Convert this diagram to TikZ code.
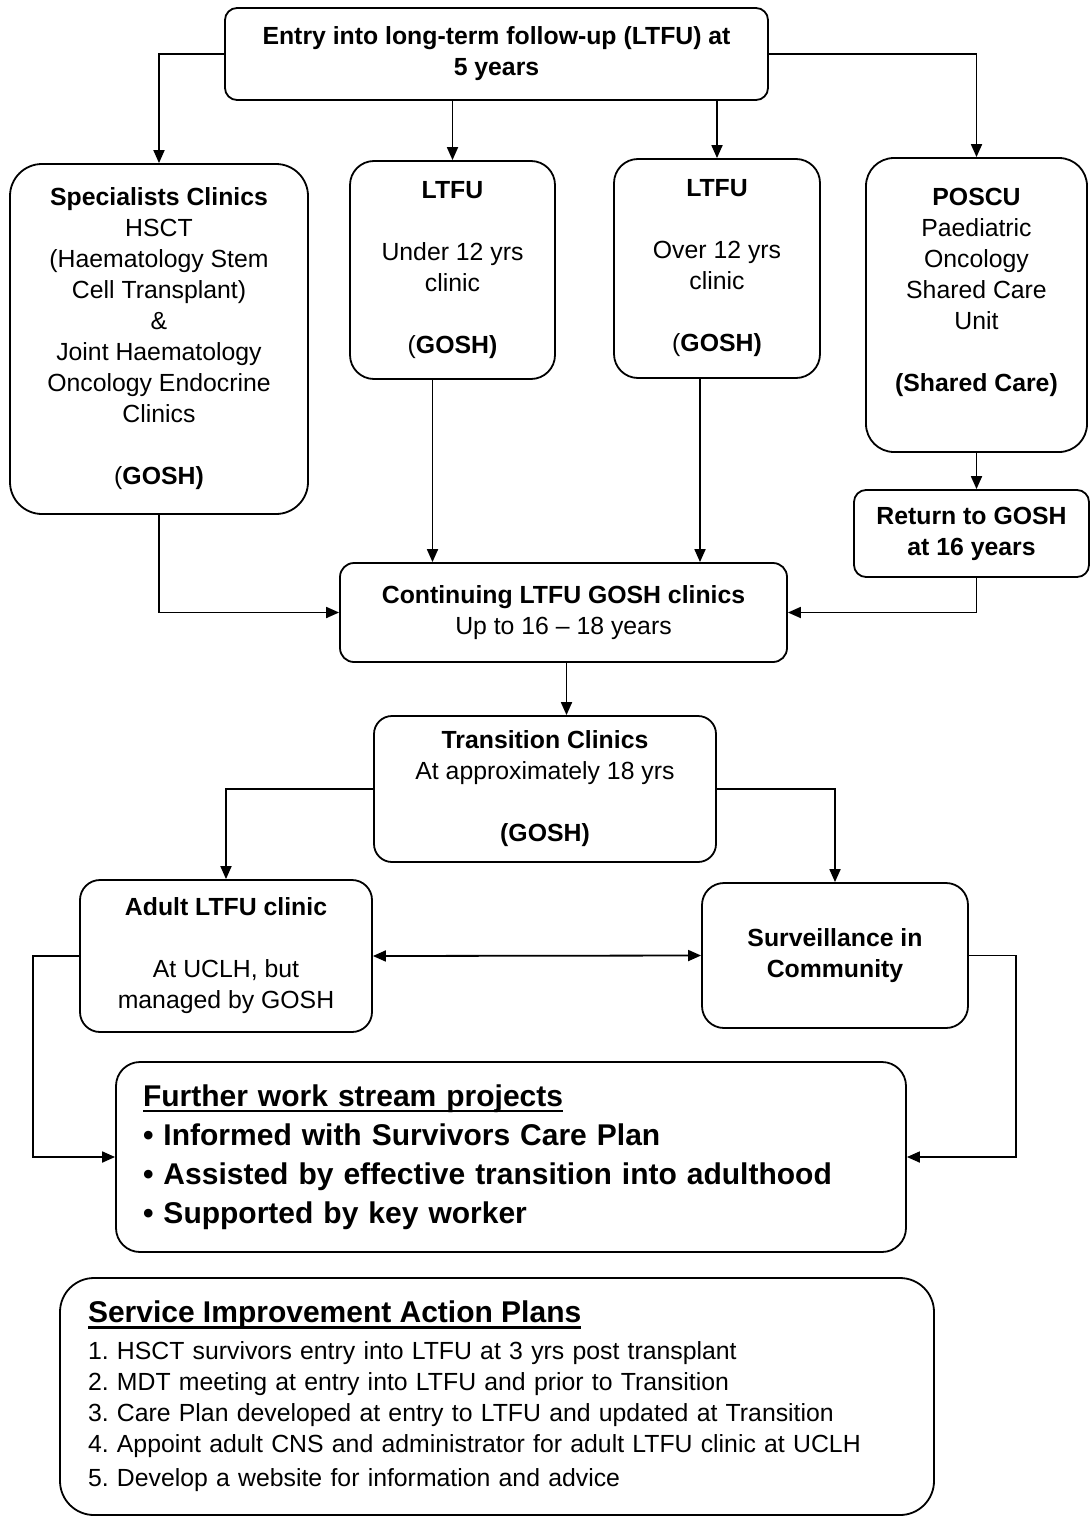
\documentclass[tikz,border=0pt]{standalone}
\usepackage{fontspec}
\setmainfont{Liberation Sans}
\usetikzlibrary{arrows.meta}
\frenchspacing

\newcommand*\thickul[1]{\setbox0\hbox{#1}\rlap{\rule[-3pt]{\wd0}{1.3pt}}\box0}

\begin{document}
\begin{tikzpicture}[x=0.5pt,y=-0.5pt, line width=0.9pt,
    box/.style={draw, rounded corners=#1, align=center, inner sep=0pt,
      font=\fontsize{12.4}{15.5}\selectfont},
    box/.default=10pt,
    arr/.style={-{Triangle[length=6.5pt,width=5.5pt]}},
    both/.style={{Triangle[length=6.5pt,width=5.5pt]}-{Triangle[length=6.5pt,width=5.5pt]}}]
    \useasboundingbox (0,0) rectangle (1090,1520);

    % Entry
    \node[box=6pt, minimum width=271.5pt, minimum height=46pt] (entry) at (496.5,54)
      {\textbf{Entry into long-term follow-up (LTFU) at}\\ \textbf{5 years}};

    % Clinics after entry
    \node[box=16pt, minimum width=149pt, minimum height=175pt] (spec) at (159,339)
      {\textbf{Specialists Clinics}\\ HSCT\\ (Haematology Stem\\ Cell Transplant)\\ \&\\
       Joint Haematology\\ Oncology Endocrine\\ Clinics\\[15.5pt] (\textbf{GOSH)}};
    \node[box=12pt, minimum width=102.5pt, minimum height=109pt] (under) at (452.5,270)
      {\textbf{LTFU}\\[15.5pt] Under 12 yrs\\ clinic\\[15.5pt] (\textbf{GOSH)}};
    \node[box=12pt, minimum width=103pt, minimum height=109.5pt] (over) at (717,268.5)
      {\textbf{LTFU}\\[15.5pt] Over 12 yrs\\ clinic\\[15.5pt] (\textbf{GOSH)}};
    \node[box=14pt, minimum width=110.5pt, minimum height=147pt] (poscu) at (976.5,305)
      {\textbf{POSCU}\\ Paediatric\\ Oncology\\ Shared Care\\ Unit\\[15.5pt]
       \textbf{(Shared Care)}\\ \mbox{}};
    \node[box=6pt, minimum width=117.5pt, minimum height=43.5pt] (ret) at (971.5,533.5)
      {\textbf{Return to GOSH}\\ \textbf{at 16 years}};

    % Continuing and transition
    \node[box=7pt, minimum width=223.5pt, minimum height=49.5pt] (cont) at (563.5,612.5)
      {\textbf{Continuing LTFU GOSH clinics}\\ Up to 16 -- 18 years};
    \node[box=9pt, minimum width=171pt, minimum height=73pt] (trans) at (545,789)
      {\textbf{Transition Clinics}\\ At approximately 18 yrs\\[15.5pt] \textbf{(GOSH)}};

    % Adult stage
    \node[box=10pt, minimum width=146pt, minimum height=76pt] (adult) at (226,956)
      {\textbf{Adult LTFU clinic}\\[15.5pt] At UCLH, but\\ managed by GOSH};
    \node[box=11pt, minimum width=133pt, minimum height=72.5pt] (surv) at (835,955.5)
      {\textbf{Surveillance in}\\ \textbf{Community}};

    % Projects and plans
    \node[box=12pt, minimum width=395pt, minimum height=95pt, text width=368pt, align=left,
      font=\fontsize{15}{19.5}\selectfont\bfseries] (further) at (511,1157)
      {\thickul{Further work stream projects}\\
       \textbullet\ Informed with Survivors Care Plan\\
       \textbullet\ Assisted by effective transition into adulthood\\
       \textbullet\ Supported by key worker};
    \node[box=17pt, minimum width=437pt, minimum height=118.5pt, text width=409pt, align=left] (plans) at (497,1396.5)
      {{\fontsize{15}{19.5}\selectfont\bfseries\thickul{Service Improvement Action Plans}\par}
       \vspace{3pt}
       1. HSCT survivors entry into LTFU at 3 yrs post transplant\\
       2. MDT meeting at entry into LTFU and prior to Transition\\
       3. Care Plan developed at entry to LTFU and updated at Transition\\
       4. Appoint adult CNS and administrator for adult LTFU clinic at UCLH\\[1.5pt]
       5. Develop a website for information and advice\par};

    % Connectors from entry
    \draw[arr] (entry.west) -| (spec.north);
    \draw[arr] (entry.east) -| (poscu.north);
    \draw[arr] (entry.south -| under.north) -- (under.north);
    \draw[arr] (entry.south -| over.north) -- (over.north);

    % Into continuing clinics
    \coordinate (underout) at ([xshift=-10pt]under.south);
    \coordinate (overout) at ([xshift=-8.5pt]over.south);
    \coordinate (retout) at (ret.south -| poscu.south);
    \draw[arr] (underout) -- (underout |- cont.north);
    \draw[arr] (overout) -- (overout |- cont.north);
    \draw[arr] (spec.south) |- (cont.west);
    \draw[arr] (poscu.south) -- (poscu.south |- ret.north);
    \draw[arr] (retout) |- (cont.east);

    % Transition and after
    \coordinate (contout) at ([xshift=1.5pt]cont.south);
    \draw[arr] (contout) -- (contout |- trans.north);
    \draw[arr] (trans.west) -| (adult.north);
    \draw[arr] (trans.east) -| (surv.north);
    \draw[both] (adult.east) -- (surv.west);
    \draw[arr] (adult.west) -- ++(-23pt,0) |- (further.west);
    \draw[arr] (surv.east) -- ++(23.5pt,0) |- (further.east);
\end{tikzpicture}
\end{document}
